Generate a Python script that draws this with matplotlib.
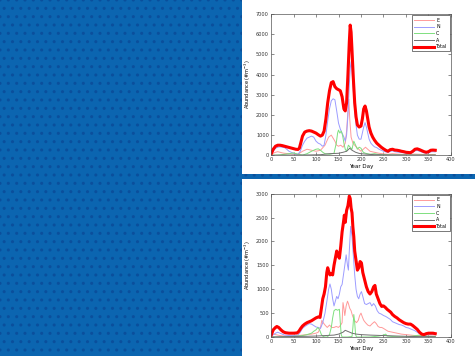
import matplotlib
matplotlib.use("Agg")
import matplotlib.pyplot as plt
from matplotlib.patches import Rectangle
import numpy as np

# ---------------- Top chart data ----------------
top_total_day = [0,5,10,15,20,25,30,35,40,45,50,55,60,63,66,70,75,80,85,90,95,100,105,110,114,118,122,126,130,134,138,142,146,150,154,158,162,165,168,171,174,176,178,180,183,186,189,192,196,200,203,206,209,212,215,218,222,226,230,235,240,245,250,255,260,265,270,275,280,285,290,295,300,305,310,315,320,325,330,335,340,345,350,355,360,365]
top_total_val = [50,300,450,500,500,480,450,420,390,360,330,300,290,350,600,950,1150,1200,1220,1200,1150,1100,1020,950,1000,1200,1800,2600,3200,3600,3650,3400,3300,3250,3200,2900,2300,2200,2600,4000,5600,6450,6100,5200,3800,2600,1900,1500,1400,1450,1800,2300,2440,2200,1800,1400,1100,900,750,600,500,400,320,250,200,280,300,260,250,230,200,180,150,140,130,200,300,320,280,230,180,150,180,250,260,250]

top_N_day = [0,5,10,15,20,25,30,35,40,45,50,55,60,65,70,75,80,85,90,95,100,105,110,114,118,122,126,130,134,138,142,146,150,154,158,162,165,168,171,174,176,178,180,183,186,189,192,196,200,203,206,209,212,215,218,222,226,230,235,240,245,250,255,260,265,270,275,280,285,290,295,300,305,310,315,320,325,330,335,340,345,350,355,360,365]
top_N_val = [0,200,350,400,420,400,380,300,200,150,100,60,50,200,500,700,850,900,950,900,700,600,550,450,500,1000,1700,2300,2700,2800,2750,2200,1600,1300,1100,900,700,1000,2000,3500,4300,4640,4200,3200,2200,1500,1000,800,800,1100,1400,1620,1400,1100,800,600,500,420,380,300,250,200,170,140,200,220,180,160,150,140,120,100,90,90,150,220,240,200,160,120,100,120,170,180,170]

top_E_day = [0,5,10,15,20,25,30,40,50,60,70,80,90,100,110,120,128,134,138,142,146,150,155,160,165,168,171,173,175,178,182,186,190,195,200,205,210,215,220,230,240,250,260,270,280,300,320,340,365]
top_E_val = [0,100,150,180,150,120,100,80,60,50,200,300,250,200,250,500,900,1000,850,700,500,450,500,400,600,1200,2200,2770,1800,900,600,500,400,300,200,300,400,300,200,150,100,70,50,80,60,40,60,40,40]

top_C_day = [0,20,40,50,60,70,80,90,100,105,110,115,120,130,140,145,148,150,153,156,159,162,165,168,172,176,180,184,188,192,196,200,205,210,220,230,240,260,300,365]
top_C_val = [0,20,80,120,50,10,80,200,300,320,250,150,80,50,100,600,1100,1250,1100,1200,1000,600,300,200,500,400,300,700,500,300,400,350,150,100,50,80,40,20,10,10]

top_A_day = [0,30,60,90,110,130,150,160,168,175,180,188,195,200,210,230,260,365]
top_A_val = [0,10,10,20,30,80,100,150,200,350,250,150,100,80,60,30,20,10]

# ---------------- Bottom chart data ----------------
bot_total_day = [0,5,10,13,17,22,27,32,40,50,58,62,66,70,75,80,85,90,95,100,105,109,112,115,118,121,124,126,128,131,134,137,140,143,146,149,152,155,158,161,163,165,168,171,174,176,178,180,182,184,186,189,192,195,198,201,204,208,212,216,220,224,228,231,234,238,242,246,250,254,258,262,266,270,275,280,285,290,295,300,305,310,315,320,325,330,335,340,345,350,355,360,365]
bot_total_val = [30,150,200,220,200,150,110,90,80,80,85,120,180,230,270,300,320,340,370,400,420,410,600,800,900,1050,1350,1450,1380,1300,1320,1300,1500,1650,1800,1700,1650,1900,2200,2400,2550,2400,2650,2750,2950,2900,2700,2600,2300,2100,1800,1600,1400,1450,1580,1550,1350,1200,1050,950,900,950,1050,1080,900,800,700,640,650,620,580,550,520,470,430,400,360,330,300,280,270,270,240,200,160,100,60,50,70,80,80,80,70]

bot_N_day = [0,5,10,15,20,25,30,40,50,60,65,70,75,80,85,90,95,100,105,110,115,120,125,128,131,134,137,140,143,146,149,152,155,158,161,164,167,170,172,174,177,180,183,186,189,192,195,198,201,204,208,212,216,220,224,228,232,236,240,245,250,255,260,265,270,275,280,285,290,295,300,305,310,315,320,325,330,335,340,345,350,360,365]
bot_N_val = [0,50,80,100,80,60,40,30,30,40,100,180,220,250,280,270,240,210,200,180,300,500,800,1000,1110,1000,800,650,750,850,800,900,1050,1100,1300,1500,1720,1500,1400,1800,2315,2100,1700,1300,1000,850,800,900,950,850,700,680,700,720,650,700,650,550,500,480,450,430,400,370,320,300,280,260,250,230,200,190,170,150,130,100,70,40,30,40,50,50,50]

bot_E_day = [0,5,10,15,20,30,40,50,60,70,80,90,100,105,110,113,116,120,125,130,135,140,145,150,155,158,160,162,164,167,170,172,175,178,181,185,190,194,197,200,203,206,210,215,220,225,230,234,238,242,246,250,255,260,265,270,280,290,300,310,320,330,340,350,365]
bot_E_val = [20,60,50,40,30,20,20,20,30,40,50,60,80,100,200,350,300,250,200,250,200,200,220,200,250,300,720,600,450,650,750,700,600,550,450,350,300,350,450,500,420,350,300,250,230,280,320,280,220,200,200,180,150,120,110,100,80,60,50,40,30,30,20,20,20]

bot_C_day = [0,20,40,60,70,80,90,95,100,104,108,112,116,120,125,130,134,137,140,144,148,152,154,156,158,170,180,182,184,186,188,190,220,240,250,255,258,270,300,330,340,365]
bot_C_val = [0,0,10,20,30,50,80,120,150,200,150,50,10,0,0,50,200,400,550,580,560,580,300,50,0,0,10,200,470,300,50,0,0,20,40,60,20,10,0,40,20,10]

bot_A_day = [0,20,50,80,100,120,140,150,160,165,170,175,180,190,200,220,250,280,320,365]
bot_A_val = [0,5,10,15,20,30,40,60,100,140,120,100,80,60,50,40,30,20,10,5]

series_labels = ["E", "N", "C", "A", "Total"]
x_ticks = [0, 50, 100, 150, 200, 250, 300, 350, 400]
top_y_ticks = [0, 1000, 2000, 3000, 4000, 5000, 6000, 7000]
bot_y_ticks = [0, 500, 1000, 1500, 2000, 2500, 3000]

colors = {"E": "#ff9a9a", "N": "#9c9cff", "C": "#7ee07e", "A": "#707070", "Total": "#ff0000"}

W, H = 475, 356
fig = plt.figure(figsize=(W / 100, H / 100), dpi=100)
fig.patch.set_facecolor("white")

# Background blue slide panels
blue = "#0b65b0"
dark = "#0a4f9c"
fig.patches.append(Rectangle((0, 0), 242 / W, 1, transform=fig.transFigure,
                             facecolor=blue, edgecolor=dark, hatch="..", linewidth=0, zorder=0))
fig.patches.append(Rectangle((242 / W, (H - 179) / H), 1 - 242 / W, 5 / H,
                             transform=fig.transFigure, facecolor=blue, edgecolor=dark,
                             hatch="..", linewidth=0, zorder=0))

def draw(ax, data, yticks, ymax):
    (eD, eV), (nD, nV), (cD, cV), (aD, aV), (tD, tV) = data
    ax.plot(eD, eV, color=colors["E"], lw=0.7, label=series_labels[0])
    ax.plot(nD, nV, color=colors["N"], lw=0.7, label=series_labels[1])
    ax.plot(cD, cV, color=colors["C"], lw=0.7, label=series_labels[2])
    ax.plot(aD, aV, color=colors["A"], lw=0.7, label=series_labels[3])
    ax.plot(tD, tV, color=colors["Total"], lw=2.2, label=series_labels[4])
    ax.set_xlim(0, 400)
    ax.set_ylim(0, ymax)
    ax.set_xticks(x_ticks)
    ax.set_yticks(yticks)
    ax.tick_params(direction="in", length=2, width=0.4, labelsize=3.6, pad=1.5,
                   top=True, right=True, colors="#333333")
    for s in ax.spines.values():
        s.set_linewidth(0.5)
        s.set_color("#555555")
    ax.set_xlabel("Year Day", fontsize=4.0, labelpad=1.5)
    ax.set_ylabel("Abundance (#m$^{-3}$)", fontsize=3.6, labelpad=2)
    leg = ax.legend(loc="upper right", fontsize=3.4, handlelength=4.2, handletextpad=0.5,
                    borderpad=0.45, labelspacing=0.35, fancybox=False, framealpha=1,
                    edgecolor="#444444", borderaxespad=0.3)
    leg.get_frame().set_linewidth(0.5)

ax1 = fig.add_axes([271 / W, 1 - 155.3 / H, 180 / W, 141.3 / H])
draw(ax1, [(top_E_day, top_E_val), (top_N_day, top_N_val), (top_C_day, top_C_val),
           (top_A_day, top_A_val), (top_total_day, top_total_val)], top_y_ticks, 7000)

ax2 = fig.add_axes([271 / W, 1 - 337 / H, 180 / W, 143.3 / H])
draw(ax2, [(bot_E_day, bot_E_val), (bot_N_day, bot_N_val), (bot_C_day, bot_C_val),
           (bot_A_day, bot_A_val), (bot_total_day, bot_total_val)], bot_y_ticks, 3000)

fig.savefig("out.png", dpi=100, facecolor=fig.get_facecolor())
